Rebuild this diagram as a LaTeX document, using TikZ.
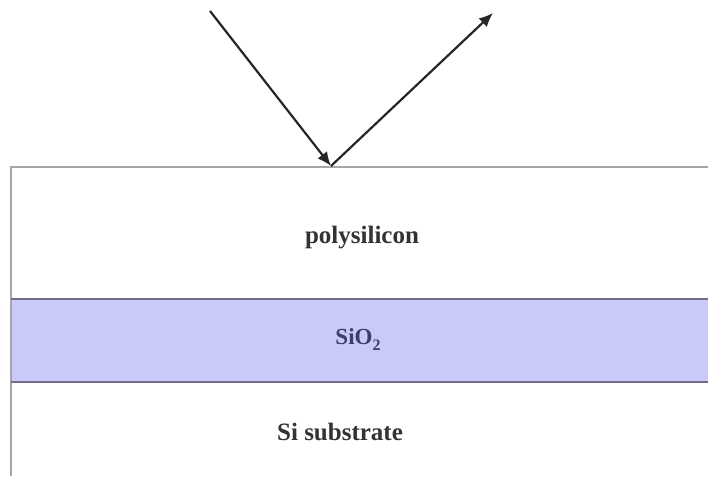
\documentclass[tikz,border=0pt]{standalone}
\usepackage{fontspec}
\setmainfont{Liberation Serif}
\usetikzlibrary{arrows.meta, positioning}

\definecolor{oxidefill}{RGB}{202,202,250}
\definecolor{oxideline}{RGB}{110,110,140}
\definecolor{oxidetext}{RGB}{60,60,110}

\begin{document}
\begin{tikzpicture}[
  x=1pt, y=-1pt,
  font=\fontsize{25}{28}\selectfont\bfseries,
  edge/.style={draw=gray!70, line width=2pt},
  band/.style={draw=oxideline, line width=2pt},
  ray/.style={-{Latex[length=14pt, width=12pt]}, line width=2.2pt, black!85},
  label/.style={inner sep=0pt, text=black!80}
]
\useasboundingbox (0,0) rectangle (708,476);

%% Layers
\fill[oxidefill] (11,299) rectangle (708,382);
\draw[edge] (708,167) -- (11,167) -- (11,476);
\draw[band] (11,299) -- (708,299);
\draw[band] (11,382) -- (708,382);

%% Labels
\node[label] (poly) at (362,238) {polysilicon};
\node[label, text=oxidetext, font=\fontsize{23}{28}\selectfont\bfseries] (oxide) at (358,340)
  {SiO\raisebox{-6pt}{\fontsize{16}{18}\selectfont 2}};
\node[label] (sub) at (340,432) {Si substrate};

%% Incident and reflected light
\coordinate (src) at (210,11);
\coordinate (hit) at (331,166);
\coordinate (out) at (493,13);
\draw[ray] (src) -- (hit);
\draw[ray] (hit) -- (out);

\end{tikzpicture}
\end{document}
